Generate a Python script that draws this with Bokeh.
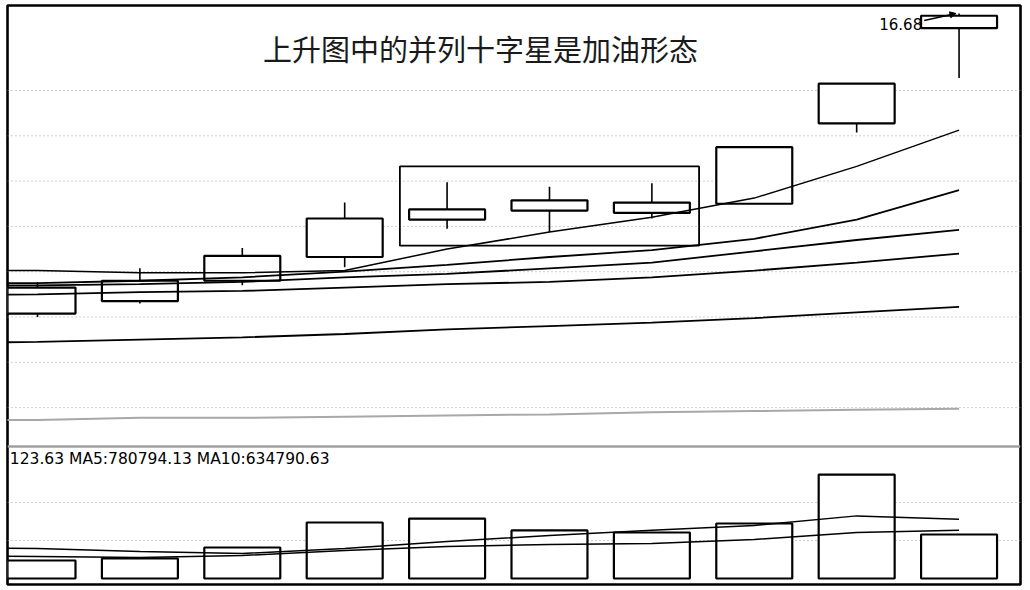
from bokeh.plotting import figure
from bokeh.models import Range1d, Span, Arrow, NormalHead, ColumnDataSource, Label, BoxAnnotation
from bokeh.core.properties import value
from bokeh.embed import file_html
from bokeh.resources import INLINE

# ---------------- data ----------------
idx = [1, 2, 3, 4, 5, 6, 7, 8, 9, 10]
opens = [14.03, 14.14, 14.32, 14.53, 14.86, 14.94, 14.92, 15.00, 15.71, 16.55]
highs = [14.31, 14.43, 14.61, 15.01, 15.19, 15.15, 15.18, 15.50, 16.06, 16.68]
lows = [14.00, 14.12, 14.28, 14.44, 14.78, 14.75, 14.87, 15.00, 15.63, 16.11]
closes = [14.26, 14.32, 14.54, 14.87, 14.95, 15.03, 15.01, 15.50, 16.06, 16.66]

volume = [237000, 263000, 408000, 737000, 789000, 632000, 605000, 724000, 1368000, 579000]

# moving-average lines (index 0 = the session before the first visible candle)
ma_idx = [0, 1, 2, 3, 4, 5, 6, 7, 8, 9, 10]
ma_a = [14.41, 14.41, 14.39, 14.39, 14.41, 14.60, 14.75, 14.88, 15.05, 15.33, 15.65]
ma_b = [14.30, 14.30, 14.32, 14.35, 14.40, 14.46, 14.53, 14.59, 14.69, 14.86, 15.12]
ma_c = [14.28, 14.28, 14.29, 14.31, 14.35, 14.38, 14.43, 14.48, 14.58, 14.68, 14.77]
ma_d = [14.19, 14.20, 14.22, 14.23, 14.26, 14.29, 14.31, 14.35, 14.41, 14.48, 14.56]
ma_e = [13.77, 13.78, 13.80, 13.82, 13.85, 13.89, 13.92, 13.95, 13.99, 14.04, 14.09]
ma_f = [13.09, 13.09, 13.11, 13.11, 13.12, 13.13, 13.14, 13.16, 13.17, 13.18, 13.19]

vol_ma5 = [408000, 395000, 355000, 329000, 395000, 487000, 566000, 634000, 697000, 824000, 781000]
vol_ma10 = [303000, 289000, 276000, 303000, 368000, 421000, 447000, 461000, 513000, 605000, 635000]

price_grid = [16.0, 15.6, 15.2, 14.8, 14.4, 14.0, 13.6, 13.2]
vol_grid = [500000, 1000000]

title_text = "上升图中的并列十字星是加油形态"
vol_text = "123.63 MA5:780794.13 MA10:634790.63"

# ---------------- figure ----------------
bar_w = 0.742
p = figure(width=1028, height=588,
           x_range=Range1d(0.707, 10.600), y_range=Range1d(11.638, 16.7506),
           x_axis_type=None, y_axis_type=None,
           output_backend="svg", toolbar_location=None,
           min_border_left=7, min_border_top=5, min_border_right=8, min_border_bottom=4)
p.extra_y_ranges = {"vol": Range1d(-78947, 7539474)}
p.outline_line_color = "black"
p.outline_line_width = 2.6
p.background_fill_color = "white"
p.border_fill_color = "white"

for g in price_grid:
    p.add_layout(Span(location=g, dimension="width", line_color="#a0a0a0",
                      line_dash="1 3", line_width=1, level="underlay"))
for g in vol_grid:
    p.add_layout(Span(location=g, dimension="width", line_color="#a0a0a0",
                      line_dash="1 3", line_width=1, level="underlay", y_range_name="vol"))
# divider between price panel and volume panel
p.add_layout(Span(location=1736842, dimension="width", line_color="#a0a0a0",
                  line_width=2.5, y_range_name="vol"))

# candles
body_top = [max(o, c) for o, c in zip(opens, closes)]
body_bot = [min(o, c) for o, c in zip(opens, closes)]
src = ColumnDataSource(dict(x=idx, h=highs, l=lows, t=body_top, b=body_bot, v=volume))
p.segment(x0="x", y0="h", x1="x", y1="l", source=src, line_color="black", line_width=1.6)
p.vbar(x="x", width=bar_w, top="t", bottom="b", source=src,
       fill_color="white", line_color="black", line_width=2.2)

# volume bars
p.vbar(x="x", width=bar_w, top="v", bottom=0, source=src, y_range_name="vol",
       fill_color="white", line_color="black", line_width=2.2)

# MA lines (price)
p.line(ma_idx, ma_a, line_color="black", line_width=1.5)
p.line(ma_idx, ma_b, line_color="black", line_width=1.8)
p.line(ma_idx, ma_c, line_color="black", line_width=1.8)
p.line(ma_idx, ma_d, line_color="black", line_width=1.8)
p.line(ma_idx, ma_e, line_color="black", line_width=1.8)
p.line(ma_idx, ma_f, line_color="#a8a8a8", line_width=2)

# MA lines (volume)
p.line(ma_idx, vol_ma5, line_color="black", line_width=1.5, y_range_name="vol")
p.line(ma_idx, vol_ma10, line_color="black", line_width=1.5, y_range_name="vol")

# highlight box around the three cross stars (candles 5-7)
p.add_layout(BoxAnnotation(left=idx[4] - bar_w / 2 - 0.09, right=idx[6] + bar_w / 2 + 0.09,
                           bottom=min(lows[4:7]) - 0.12, top=max(highs[4:7]) + 0.14,
                           fill_color=None, fill_alpha=0, line_color="black",
                           line_alpha=1.0, line_width=1.8))

# title
p.add_layout(Label(x=5.326, y=16.371, text=title_text, text_align="center",
                   text_baseline="middle", text_font="Noto Sans CJK SC",
                   text_font_size="29px", text_color="#1a1a1a"))

# highest price mark
hi = max(highs)
hi_i = idx[highs.index(hi)]
p.add_layout(Label(x=hi_i - 0.36, y=16.583, text=f"{hi:.2f}", text_align="right",
                   text_baseline="middle", text_font="DejaVu Sans",
                   text_font_size="15px", text_color="black"))
p.add_layout(Arrow(end=NormalHead(size=6, fill_color="black", line_color="black"),
                   x_start=hi_i - 0.34, y_start=16.618, x_end=hi_i - 0.03, y_end=hi,
                   line_color="black", line_width=1.4))

# volume info text
tsrc = ColumnDataSource(dict(x=[0.73], y=[12.75], t=[vol_text]))
p.text(x="x", y="y", text="t", source=tsrc, text_align="left", text_baseline="middle",
       text_font=value("DejaVu Sans"), text_font_size="15.5px", text_color="black")

open("out.html", "w").write(file_html(p, INLINE))
